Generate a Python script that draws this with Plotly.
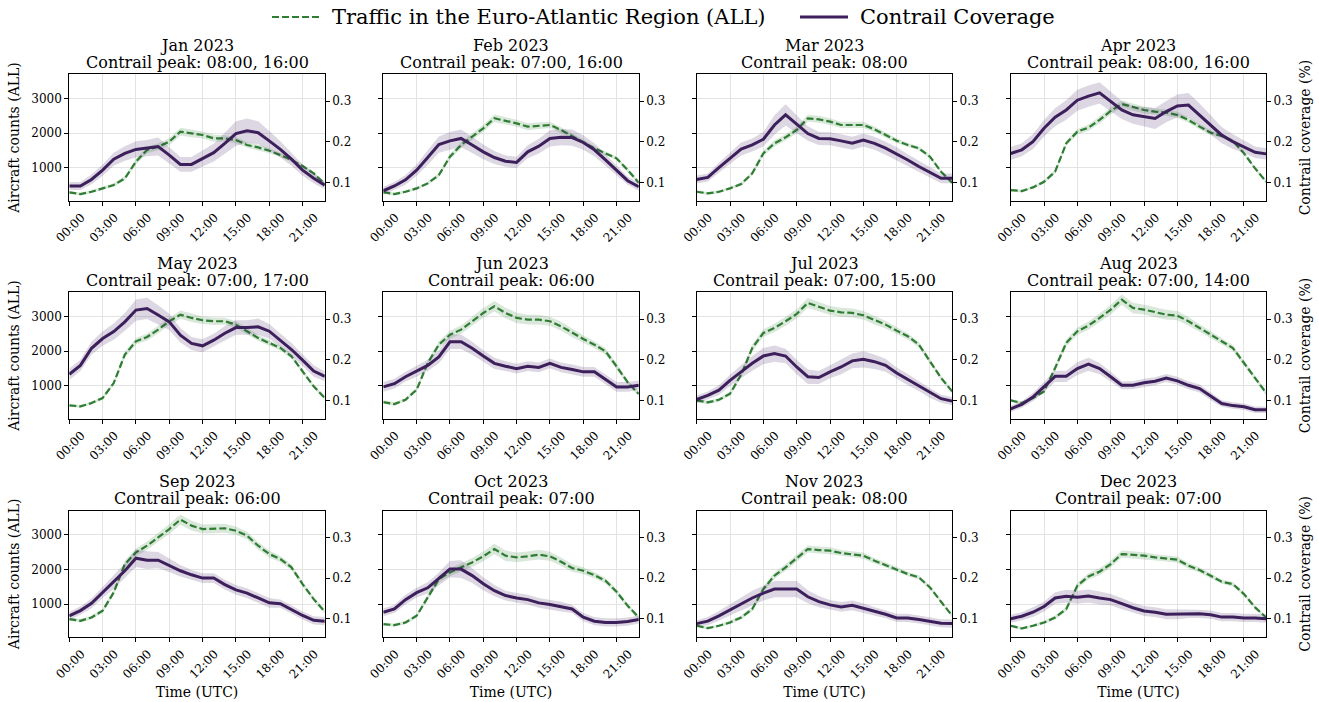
import plotly.graph_objects as go

# ---------------------------------------------------------------- data
hours = list(range(24))
tick_hours = [0, 3, 6, 9, 12, 15, 18, 21]
tick_labels = ["00:00", "03:00", "06:00", "09:00", "12:00", "15:00", "18:00", "21:00"]

months = ["Jan 2023", "Feb 2023", "Mar 2023", "Apr 2023", "May 2023", "Jun 2023",
          "Jul 2023", "Aug 2023", "Sep 2023", "Oct 2023", "Nov 2023", "Dec 2023"]
peak_hours = ["08:00, 16:00", "07:00, 16:00", "08:00", "08:00, 16:00", "07:00, 17:00", "06:00",
              "07:00, 15:00", "07:00, 14:00", "06:00", "07:00", "08:00", "07:00"]

# hourly aircraft counts (mean) per month
traffic_jan = [288, 240, 307, 404, 500, 692, 1173, 1510, 1606, 1750, 2039, 1991, 1943, 1847, 1847, 1798, 1654, 1587, 1490, 1366, 1221, 1048, 836, 529]
traffic_feb = [298, 240, 307, 404, 548, 788, 1317, 1654, 1895, 2135, 2424, 2356, 2279, 2183, 2202, 2231, 2087, 1914, 1750, 1558, 1414, 1269, 933, 567]
traffic_mar = [307, 260, 307, 404, 529, 836, 1414, 1702, 1875, 2087, 2424, 2395, 2328, 2231, 2231, 2231, 2106, 1943, 1779, 1654, 1558, 1317, 885, 567]
traffic_apr = [356, 327, 432, 596, 885, 1702, 2039, 2154, 2376, 2635, 2837, 2741, 2664, 2616, 2587, 2520, 2376, 2183, 2010, 1914, 1770, 1414, 981, 596]
traffic_may = [432, 404, 500, 644, 1077, 1895, 2279, 2404, 2616, 2857, 3049, 2953, 2886, 2857, 2857, 2760, 2568, 2376, 2231, 2087, 1847, 1414, 981, 644]
traffic_jun = [529, 471, 596, 885, 1654, 2183, 2472, 2616, 2857, 3097, 3290, 3097, 2953, 2905, 2905, 2857, 2712, 2520, 2347, 2183, 1991, 1558, 1096, 760]
traffic_jul = [577, 519, 596, 769, 1317, 2087, 2520, 2664, 2857, 3068, 3386, 3270, 3165, 3116, 3097, 3030, 2886, 2760, 2587, 2424, 2183, 1702, 1221, 836]
traffic_aug = [577, 500, 644, 836, 1510, 2231, 2568, 2732, 2953, 3193, 3482, 3241, 3193, 3116, 3049, 3020, 2857, 2664, 2472, 2279, 2087, 1654, 1221, 788]
traffic_sep = [567, 519, 615, 808, 1337, 2154, 2491, 2683, 2924, 3164, 3434, 3261, 3164, 3164, 3184, 3116, 2972, 2683, 2443, 2299, 2058, 1577, 1144, 779]
traffic_oct = [423, 394, 471, 663, 1192, 1721, 1914, 2058, 2202, 2376, 2587, 2395, 2347, 2376, 2424, 2376, 2222, 2039, 1962, 1837, 1674, 1356, 952, 615]
traffic_nov = [375, 308, 375, 471, 615, 856, 1433, 1818, 2058, 2318, 2587, 2558, 2539, 2472, 2443, 2395, 2251, 2125, 2010, 1866, 1770, 1481, 1067, 663]
traffic_dec = [375, 298, 375, 471, 615, 856, 1529, 1799, 1933, 2154, 2443, 2424, 2395, 2347, 2318, 2280, 2106, 1981, 1818, 1645, 1577, 1289, 904, 615]

# half-width of the traffic uncertainty band (aircraft counts)
traffic_ci_jan = [40, 40, 40, 40, 50, 60, 80, 90, 100, 100, 110, 110, 100, 100, 90, 90, 80, 80, 70, 60, 60, 50, 50, 50]
traffic_ci_feb = [40, 40, 40, 40, 50, 60, 80, 90, 100, 100, 110, 110, 100, 100, 90, 90, 80, 80, 70, 60, 60, 50, 50, 50]
traffic_ci_mar = [40, 40, 40, 40, 50, 60, 80, 90, 90, 100, 100, 100, 100, 90, 90, 90, 80, 80, 70, 60, 60, 50, 50, 50]
traffic_ci_apr = [40, 40, 40, 50, 60, 70, 80, 90, 100, 100, 100, 100, 100, 90, 90, 90, 80, 80, 70, 60, 60, 50, 50, 50]
traffic_ci_may = [40, 40, 40, 50, 60, 80, 90, 100, 110, 110, 120, 120, 110, 110, 100, 100, 90, 90, 80, 70, 60, 60, 50, 50]
traffic_ci_jun = [50, 50, 50, 60, 80, 100, 110, 120, 130, 140, 150, 150, 150, 140, 140, 130, 130, 120, 110, 100, 90, 80, 60, 60]
traffic_ci_jul = [50, 50, 50, 60, 80, 100, 110, 120, 130, 130, 140, 140, 130, 130, 130, 120, 120, 110, 100, 90, 80, 70, 60, 60]
traffic_ci_aug = [50, 50, 50, 60, 80, 100, 110, 120, 130, 140, 150, 150, 140, 140, 140, 130, 120, 110, 100, 90, 80, 70, 60, 60]
traffic_ci_sep = [50, 50, 50, 60, 80, 100, 110, 120, 130, 140, 150, 140, 130, 130, 130, 120, 110, 110, 100, 90, 80, 70, 60, 60]
traffic_ci_oct = [50, 50, 50, 60, 80, 100, 110, 120, 130, 140, 150, 150, 140, 140, 140, 130, 120, 110, 100, 90, 80, 70, 60, 60]
traffic_ci_nov = [40, 40, 40, 50, 60, 70, 80, 90, 100, 100, 100, 100, 100, 90, 90, 90, 80, 80, 70, 60, 60, 50, 50, 50]
traffic_ci_dec = [40, 40, 40, 50, 60, 70, 80, 90, 100, 100, 100, 100, 100, 90, 90, 90, 80, 80, 70, 60, 60, 50, 50, 50]

# hourly contrail coverage (mean) per month
coverage_jan = [0.091, 0.091, 0.107, 0.130, 0.157, 0.171, 0.181, 0.184, 0.188, 0.167, 0.144, 0.144, 0.159, 0.173, 0.196, 0.220, 0.227, 0.222, 0.202, 0.181, 0.157, 0.130, 0.110, 0.093]
coverage_feb = [0.079, 0.091, 0.106, 0.130, 0.161, 0.193, 0.202, 0.208, 0.192, 0.175, 0.161, 0.152, 0.149, 0.175, 0.189, 0.208, 0.211, 0.210, 0.198, 0.180, 0.155, 0.130, 0.104, 0.089]
coverage_mar = [0.107, 0.112, 0.136, 0.159, 0.182, 0.192, 0.206, 0.241, 0.266, 0.243, 0.220, 0.208, 0.207, 0.202, 0.196, 0.204, 0.196, 0.184, 0.170, 0.155, 0.139, 0.124, 0.110, 0.110]
coverage_apr = [0.171, 0.180, 0.200, 0.233, 0.260, 0.278, 0.302, 0.312, 0.320, 0.298, 0.278, 0.266, 0.261, 0.257, 0.274, 0.288, 0.290, 0.266, 0.241, 0.216, 0.200, 0.188, 0.174, 0.170]
coverage_may = [0.164, 0.186, 0.228, 0.252, 0.269, 0.293, 0.322, 0.326, 0.310, 0.293, 0.260, 0.240, 0.234, 0.248, 0.265, 0.279, 0.279, 0.281, 0.270, 0.248, 0.225, 0.199, 0.172, 0.159]
coverage_jun = [0.133, 0.141, 0.158, 0.172, 0.186, 0.207, 0.244, 0.244, 0.228, 0.209, 0.191, 0.184, 0.178, 0.184, 0.181, 0.191, 0.181, 0.176, 0.170, 0.170, 0.151, 0.133, 0.133, 0.137]
coverage_jul = [0.102, 0.112, 0.125, 0.149, 0.170, 0.191, 0.209, 0.215, 0.209, 0.182, 0.158, 0.156, 0.170, 0.182, 0.197, 0.201, 0.195, 0.186, 0.167, 0.151, 0.135, 0.118, 0.104, 0.098]
coverage_aug = [0.079, 0.090, 0.108, 0.133, 0.159, 0.159, 0.178, 0.189, 0.178, 0.158, 0.137, 0.137, 0.143, 0.147, 0.155, 0.148, 0.137, 0.129, 0.110, 0.092, 0.087, 0.084, 0.077, 0.077]
coverage_sep = [0.107, 0.120, 0.138, 0.165, 0.190, 0.218, 0.249, 0.244, 0.244, 0.231, 0.218, 0.208, 0.200, 0.200, 0.184, 0.171, 0.163, 0.151, 0.139, 0.137, 0.122, 0.108, 0.096, 0.094]
coverage_oct = [0.116, 0.124, 0.147, 0.164, 0.176, 0.198, 0.222, 0.222, 0.206, 0.186, 0.169, 0.157, 0.151, 0.147, 0.139, 0.135, 0.130, 0.124, 0.104, 0.094, 0.091, 0.091, 0.093, 0.098]
coverage_nov = [0.088, 0.094, 0.107, 0.122, 0.138, 0.151, 0.163, 0.173, 0.173, 0.173, 0.154, 0.142, 0.134, 0.129, 0.133, 0.126, 0.118, 0.111, 0.102, 0.102, 0.098, 0.094, 0.089, 0.088]
coverage_dec = [0.100, 0.106, 0.116, 0.130, 0.151, 0.155, 0.153, 0.156, 0.151, 0.147, 0.137, 0.127, 0.119, 0.116, 0.111, 0.111, 0.112, 0.112, 0.110, 0.104, 0.104, 0.102, 0.102, 0.100]

# half-width of the coverage uncertainty band
coverage_ci_jan = [0.010, 0.010, 0.012, 0.014, 0.016, 0.018, 0.020, 0.020, 0.022, 0.020, 0.018, 0.018, 0.020, 0.022, 0.026, 0.030, 0.030, 0.028, 0.024, 0.020, 0.016, 0.014, 0.012, 0.010]
coverage_ci_feb = [0.010, 0.010, 0.012, 0.014, 0.018, 0.020, 0.022, 0.022, 0.020, 0.018, 0.016, 0.014, 0.014, 0.016, 0.018, 0.020, 0.020, 0.020, 0.018, 0.016, 0.014, 0.012, 0.010, 0.010]
coverage_ci_mar = [0.010, 0.010, 0.012, 0.014, 0.016, 0.016, 0.018, 0.024, 0.026, 0.022, 0.018, 0.016, 0.016, 0.016, 0.016, 0.016, 0.016, 0.016, 0.016, 0.014, 0.014, 0.012, 0.012, 0.012]
coverage_ci_apr = [0.016, 0.016, 0.018, 0.020, 0.022, 0.024, 0.026, 0.026, 0.026, 0.024, 0.022, 0.022, 0.024, 0.026, 0.026, 0.028, 0.030, 0.028, 0.024, 0.020, 0.018, 0.016, 0.014, 0.014]
coverage_ci_may = [0.014, 0.014, 0.016, 0.018, 0.020, 0.022, 0.026, 0.026, 0.024, 0.020, 0.018, 0.016, 0.016, 0.016, 0.018, 0.018, 0.018, 0.020, 0.018, 0.016, 0.016, 0.014, 0.014, 0.012]
coverage_ci_jun = [0.012, 0.012, 0.012, 0.014, 0.014, 0.016, 0.018, 0.018, 0.016, 0.014, 0.014, 0.012, 0.012, 0.012, 0.012, 0.012, 0.012, 0.012, 0.012, 0.012, 0.012, 0.012, 0.012, 0.012]
coverage_ci_jul = [0.010, 0.010, 0.012, 0.014, 0.016, 0.018, 0.020, 0.020, 0.018, 0.018, 0.018, 0.016, 0.016, 0.018, 0.018, 0.020, 0.018, 0.016, 0.014, 0.014, 0.012, 0.012, 0.010, 0.010]
coverage_ci_aug = [0.008, 0.008, 0.010, 0.012, 0.014, 0.014, 0.016, 0.016, 0.014, 0.012, 0.010, 0.010, 0.010, 0.010, 0.010, 0.010, 0.010, 0.010, 0.010, 0.008, 0.008, 0.008, 0.008, 0.008]
coverage_ci_sep = [0.010, 0.010, 0.012, 0.014, 0.016, 0.018, 0.022, 0.022, 0.020, 0.016, 0.014, 0.012, 0.012, 0.012, 0.012, 0.012, 0.012, 0.012, 0.012, 0.010, 0.010, 0.010, 0.010, 0.010]
coverage_ci_oct = [0.010, 0.010, 0.012, 0.012, 0.014, 0.016, 0.020, 0.022, 0.018, 0.016, 0.014, 0.012, 0.012, 0.012, 0.012, 0.012, 0.012, 0.010, 0.010, 0.010, 0.010, 0.010, 0.010, 0.010]
coverage_ci_nov = [0.008, 0.010, 0.012, 0.014, 0.016, 0.018, 0.018, 0.020, 0.020, 0.020, 0.016, 0.014, 0.012, 0.012, 0.012, 0.012, 0.010, 0.010, 0.010, 0.010, 0.010, 0.010, 0.010, 0.010]
coverage_ci_dec = [0.010, 0.010, 0.012, 0.012, 0.014, 0.016, 0.016, 0.016, 0.016, 0.014, 0.014, 0.012, 0.012, 0.012, 0.012, 0.012, 0.010, 0.010, 0.010, 0.010, 0.010, 0.010, 0.010, 0.010]

traffic_all = [traffic_jan, traffic_feb, traffic_mar, traffic_apr, traffic_may, traffic_jun,
               traffic_jul, traffic_aug, traffic_sep, traffic_oct, traffic_nov, traffic_dec]
traffic_ci_all = [traffic_ci_jan, traffic_ci_feb, traffic_ci_mar, traffic_ci_apr, traffic_ci_may, traffic_ci_jun,
                  traffic_ci_jul, traffic_ci_aug, traffic_ci_sep, traffic_ci_oct, traffic_ci_nov, traffic_ci_dec]
coverage_all = [coverage_jan, coverage_feb, coverage_mar, coverage_apr, coverage_may, coverage_jun,
                coverage_jul, coverage_aug, coverage_sep, coverage_oct, coverage_nov, coverage_dec]
coverage_ci_all = [coverage_ci_jan, coverage_ci_feb, coverage_ci_mar, coverage_ci_apr, coverage_ci_may, coverage_ci_jun,
                   coverage_ci_jul, coverage_ci_aug, coverage_ci_sep, coverage_ci_oct, coverage_ci_nov, coverage_ci_dec]

# ---------------------------------------------------------------- style
W, H = 1319, 702
FONT = "DejaVu Serif"
GREEN = "#2e7d32"
GREEN_FILL = "rgba(46,125,50,0.18)"
PURPLE = "#3d1f5c"
PURPLE_FILL = "rgba(61,31,92,0.18)"
GRID = "#e3e3e3"

col_left = [69.3, 383.3, 696.7, 1010.7]
row_top = [74.3, 292.3, 510.7]
panel_w, panel_h = 255.5, 126.4

traffic_range = [49, 3692]
coverage_range = [0.0548, 0.3657]

fig = go.Figure()
annotations = []
shapes = []


def axis_ref(prefix, n):
    return prefix if n == 1 else f"{prefix}{n}"


for i in range(12):
    r, c = divmod(i, 4)
    x0 = col_left[c] / W
    x1 = (col_left[c] + panel_w) / W
    y1 = 1 - row_top[r] / H
    y0 = 1 - (row_top[r] + panel_h) / H

    xn = i + 1
    yl = 2 * i + 1
    yr = 2 * i + 2
    xa = axis_ref("x", xn)
    ya_l = axis_ref("y", yl)
    ya_r = axis_ref("y", yr)

    t = traffic_all[i]
    tci = traffic_ci_all[i]
    cv = coverage_all[i]
    cci = coverage_ci_all[i]

    t_up = [v + e for v, e in zip(t, tci)]
    t_lo = [v - e for v, e in zip(t, tci)]
    c_up = [v + e for v, e in zip(cv, cci)]
    c_lo = [v - e for v, e in zip(cv, cci)]

    fig.add_trace(go.Scatter(x=hours + hours[::-1], y=t_up + t_lo[::-1], fill="toself",
                             fillcolor=GREEN_FILL, line=dict(width=0), hoverinfo="skip",
                             showlegend=False, xaxis=xa, yaxis=ya_l))
    fig.add_trace(go.Scatter(x=hours, y=t, mode="lines", name="Traffic in the Euro-Atlantic Region (ALL)",
                             line=dict(color=GREEN, width=2.2, dash="7px,3px"),
                             showlegend=False, xaxis=xa, yaxis=ya_l))
    fig.add_trace(go.Scatter(x=hours + hours[::-1], y=c_up + c_lo[::-1], fill="toself",
                             fillcolor=PURPLE_FILL, line=dict(width=0), hoverinfo="skip",
                             showlegend=False, xaxis=xa, yaxis=ya_r))
    fig.add_trace(go.Scatter(x=hours, y=cv, mode="lines", name="Contrail Coverage",
                             line=dict(color=PURPLE, width=3),
                             showlegend=False, xaxis=xa, yaxis=ya_r))

    tickfont = dict(family=FONT, size=12, color="black")
    xaxis = dict(domain=[x0, x1], anchor=ya_l, range=[0, 23], automargin=False,
                 tickmode="array", tickvals=tick_hours, ticktext=tick_labels,
                 tickangle=-45, ticks="outside", ticklen=4, tickwidth=1, tickcolor="black",
                 tickfont=tickfont, ticklabelshift=12,
                 showgrid=True, gridcolor=GRID, gridwidth=1,
                 showline=True, linecolor="black", linewidth=1, mirror=True,
                 zeroline=False, fixedrange=True)
    if r == 2:
        xaxis["title"] = dict(text="Time (UTC)", font=dict(family=FONT, size=14, color="black"), standoff=6)
    yaxis_l = dict(domain=[y0, y1], anchor=xa, range=traffic_range, automargin=False,
                   tickmode="array", tickvals=[1000, 2000, 3000], ticktext=["1000", "2000", "3000"],
                   ticks="outside", ticklen=4, tickwidth=1, tickcolor="black",
                   tickfont=tickfont, showticklabels=(c == 0),
                   showgrid=True, gridcolor=GRID, gridwidth=1,
                   showline=True, linecolor="black", linewidth=1, mirror=True,
                   zeroline=False, fixedrange=True)
    if c == 0:
        yaxis_l["title"] = dict(text="Aircraft counts (ALL)", font=dict(family=FONT, size=14, color="black"), standoff=8)
    yaxis_r = dict(overlaying=ya_l, side="right", anchor=xa, range=coverage_range, automargin=False,
                   tickmode="array", tickvals=[0.1, 0.2, 0.3], ticktext=["0.1", "0.2", "0.3"],
                   ticks="outside", ticklen=4, tickwidth=1, tickcolor="black",
                   tickfont=tickfont, showgrid=False, zeroline=False, showline=False,
                   fixedrange=True)
    if c == 3:
        yaxis_r["title"] = dict(text="Contrail coverage (%)", font=dict(family=FONT, size=14, color="black"), standoff=8)

    fig.layout[axis_ref("xaxis", xn)] = xaxis
    fig.layout[axis_ref("yaxis", yl)] = yaxis_l
    fig.layout[axis_ref("yaxis", yr)] = yaxis_r

    xc = (x0 + x1) / 2
    annotations.append(dict(text=months[i], x=xc, y=y1, xref="paper", yref="paper",
                            xanchor="center", yanchor="middle", yshift=29, showarrow=False,
                            font=dict(family=FONT, size=16, color="black")))
    annotations.append(dict(text=f"Contrail peak: {peak_hours[i]}", x=xc, y=y1, xref="paper", yref="paper",
                            xanchor="center", yanchor="middle", yshift=12, showarrow=False,
                            font=dict(family=FONT, size=16, color="black")))

# figure legend across the top
leg_y = 1 - 17 / H
shapes.append(dict(type="line", xref="paper", yref="paper", x0=272 / W, x1=320 / W, y0=leg_y, y1=leg_y,
                   line=dict(color=GREEN, width=2.2, dash="7px,3px")))
shapes.append(dict(type="line", xref="paper", yref="paper", x0=800 / W, x1=848 / W, y0=leg_y, y1=leg_y,
                   line=dict(color=PURPLE, width=3)))
annotations.append(dict(text="Traffic in the Euro-Atlantic Region (ALL)", x=330 / W, y=leg_y,
                        xref="paper", yref="paper", xanchor="left", yanchor="middle", showarrow=False,
                        font=dict(family=FONT, size=21, color="black")))
annotations.append(dict(text="Contrail Coverage", x=858 / W, y=leg_y,
                        xref="paper", yref="paper", xanchor="left", yanchor="middle", showarrow=False,
                        font=dict(family=FONT, size=21, color="black")))

fig.update_layout(width=W, height=H, margin=dict(l=0, r=0, t=0, b=0, autoexpand=False),
                  paper_bgcolor="white", plot_bgcolor="white",
                  font=dict(family=FONT, size=12, color="black"),
                  showlegend=False, annotations=annotations, shapes=shapes)

fig.write_html("out.html")
